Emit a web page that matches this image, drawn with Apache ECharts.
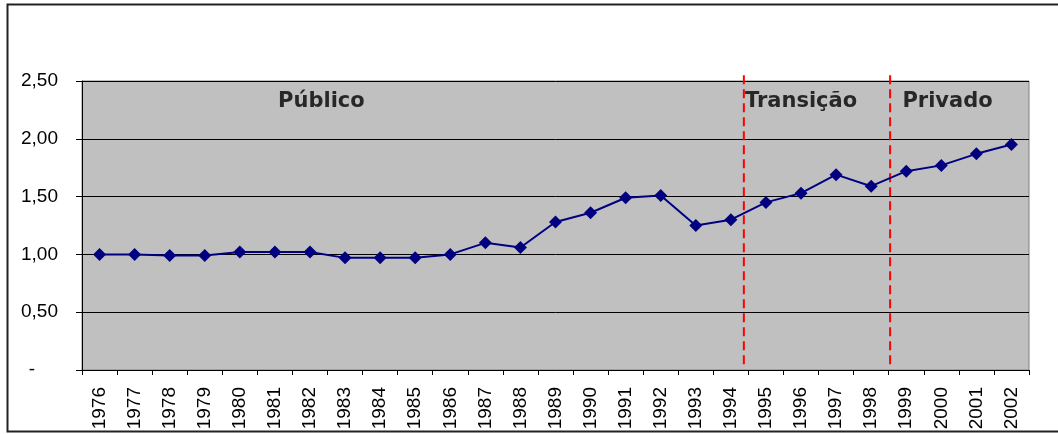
<!DOCTYPE html>
<html>
<head>
<meta charset="utf-8">
<script src="https://cdn.jsdelivr.net/npm/echarts@6/dist/echarts.min.js"></script>
<style>
  html, body { margin: 0; padding: 0; background: #fff; }
  #chart { width: 1058px; height: 434px; }
</style>
</head>
<body>
<div id="chart"></div>
<script>
// Years on the horizontal axis
var years = ['1976','1977','1978','1979','1980','1981','1982','1983','1984','1985',
             '1986','1987','1988','1989','1990','1991','1992','1993','1994','1995',
             '1996','1997','1998','1999','2000','2001','2002'];

// Index values per year
var values = [1.00, 1.00, 0.99, 0.99, 1.02, 1.02, 1.02, 0.97, 0.97, 0.97,
              1.00, 1.10, 1.06, 1.28, 1.36, 1.49, 1.51, 1.25, 1.30, 1.45,
              1.53, 1.69, 1.59, 1.72, 1.77, 1.87, 1.95];

// Period dividers, in category units counted from the left edge of the plot
var dividers = [18.87, 23.04];

// Period names and where each starts (same category units)
var periodNames = ['Público', 'Transição', 'Privado'];
var periodStarts = [5.59, 18.90, 23.39];

var yTicks = { min: 0, max: 2.5, interval: 0.5 };

var chart = echarts.init(document.getElementById('chart'));

var axisFamily = "'Liberation Sans', Arial, sans-serif";
var axisFont = { fontFamily: axisFamily, fontSize: 19, color: '#000' };

var series = [{
  type: 'line',
  data: values,
  xAxisIndex: 0,
  yAxisIndex: 0,
  symbol: 'diamond',
  symbolSize: 13,
  lineStyle: { color: '#000080', width: 2 },
  itemStyle: { color: '#000080' },
  z: 5,
  animation: false
}];

dividers.forEach(function (d) {
  series.push({
    type: 'line',
    xAxisIndex: 1,
    yAxisIndex: 0,
    data: [[d, 2.55], [d, 0.05]],
    symbol: 'none',
    clip: false,
    lineStyle: { color: '#ff0000', width: 2, type: [9, 5] },
    z: 4,
    animation: false
  });
});

// Period names sit at a fixed height near the top of the plot
series.push({
  type: 'scatter',
  xAxisIndex: 1,
  yAxisIndex: 0,
  symbolSize: 0,
  clip: false,
  data: periodNames.map(function (n, i) { return { name: n, value: [periodStarts[i], 2.32] }; }),
  label: {
    show: true,
    position: 'inside',
    align: 'left',
    verticalAlign: 'middle',
    formatter: '{b}',
    fontFamily: "'DejaVu Sans'",
    fontWeight: 'bold',
    fontSize: 21,
    color: '#000'
  },
  silent: true,
  z: 6,
  animation: false
});

chart.setOption({
  animation: false,
  grid: {
    left: 82, right: 29, top: 81, bottom: 64,
    show: true,
    backgroundColor: '#c0c0c0',
    borderColor: '#808080',
    borderWidth: 1
  },
  xAxis: [{
    type: 'category',
    data: years,
    boundaryGap: true,
    axisLine: { lineStyle: { color: '#000', width: 1 } },
    axisTick: { show: true, length: 5, lineStyle: { color: '#000' } },
    axisLabel: Object.assign({ rotate: 90, margin: 17, interval: 0 }, axisFont),
    splitLine: { show: false }
  }, {
    type: 'value',
    min: 0, max: years.length,
    show: false
  }],
  yAxis: [{
    type: 'value',
    min: yTicks.min, max: yTicks.max, interval: yTicks.interval,
    axisLine: { show: true, lineStyle: { color: '#000', width: 1 } },
    axisTick: { show: true, length: 6, lineStyle: { color: '#000' } },
    splitLine: { show: true, lineStyle: { color: '#000', width: 1 } },
    axisLabel: Object.assign({
      margin: 24,
      formatter: function (v) {
        if (v === 0) return '{dash|-}';
        return v.toFixed(2).replace('.', ',');
      },
      rich: {
        dash: { fontFamily: axisFamily, fontSize: 19, color: '#000', padding: [0, 23, 0, 0] }
      }
    }, axisFont)
  }],
  graphic: [{
    type: 'rect',
    shape: { x: 7.5, y: 4.5, width: 1060, height: 427 },
    style: { fill: 'none', stroke: '#222', lineWidth: 2 },
    silent: true,
    z: 10
  }],
  series: series
});
</script>
</body>
</html>
